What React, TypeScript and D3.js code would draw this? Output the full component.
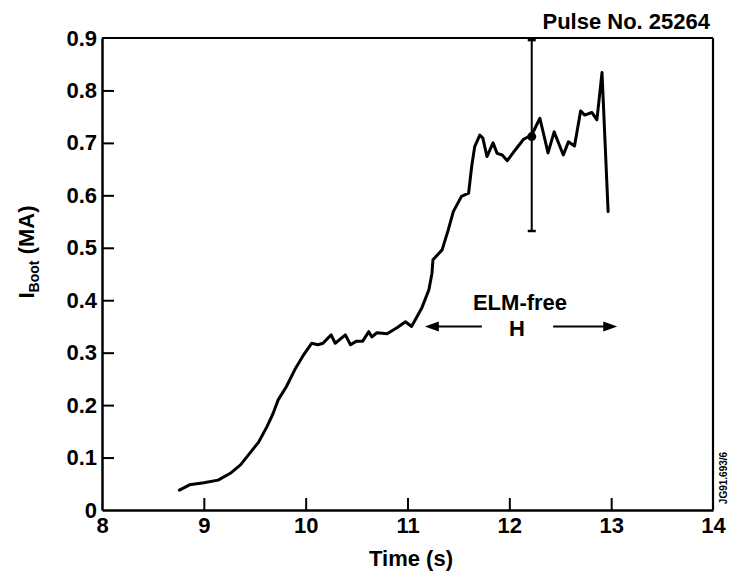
import React, { useEffect, useRef } from "react";
import * as d3 from "d3";

// ---- data ----
const time = [8.76, 8.86, 9.0, 9.14, 9.26, 9.36, 9.45, 9.54, 9.62, 9.68, 9.73, 9.81, 9.9, 9.98, 10.06, 10.12, 10.17, 10.25, 10.29, 10.39, 10.44, 10.5, 10.56, 10.62, 10.65, 10.7, 10.8, 10.9, 10.98, 11.04, 11.14, 11.21, 11.24, 11.25, 11.34, 11.37, 11.4, 11.45, 11.53, 11.6, 11.63, 11.66, 11.71, 11.74, 11.78, 11.84, 11.88, 11.93, 11.98, 12.06, 12.14, 12.22, 12.3, 12.38, 12.44, 12.53, 12.58, 12.64, 12.7, 12.74, 12.81, 12.86, 12.91, 12.97];
const iboot = [0.038, 0.048, 0.052, 0.057, 0.07, 0.086, 0.108, 0.13, 0.159, 0.184, 0.21, 0.235, 0.27, 0.296, 0.318, 0.315, 0.318, 0.334, 0.318, 0.334, 0.315, 0.322, 0.322, 0.34, 0.33, 0.338, 0.336, 0.348, 0.359, 0.35, 0.385, 0.42, 0.451, 0.477, 0.496, 0.515, 0.534, 0.569, 0.598, 0.604, 0.655, 0.693, 0.715, 0.709, 0.674, 0.7, 0.68, 0.677, 0.666, 0.687, 0.707, 0.715, 0.747, 0.681, 0.721, 0.677, 0.702, 0.694, 0.761, 0.753, 0.758, 0.744, 0.834, 0.569];

const xTicks = [8, 9, 10, 11, 12, 13, 14];
const yTicks = [0, 0.1, 0.2, 0.3, 0.4, 0.5, 0.6, 0.7, 0.8, 0.9];

// error bar at one point
const errTime = 12.22;
const errValue = 0.712;
const errLow = 0.532;
const errHigh = 0.896;

// ELM-free H arrows
const arrowY = 0.35;
const leftArrow = [11.73, 11.17];
const rightArrow = [12.43, 13.06];

const W = 735;
const H = 578;
const FONT = "'Liberation Sans', Arial, Helvetica, sans-serif";

export default function App() {
  const ref = useRef<SVGSVGElement | null>(null);

  useEffect(() => {
    const svg = d3.select(ref.current);
    svg.selectAll("*").remove();

    const x = d3.scaleLinear().domain([8, 14]).range([102, 713]);
    const y = d3.scaleLinear().domain([0, 0.9]).range([510, 38]);

    // frame (top & right)
    svg.append("line").attr("x1", x(8)).attr("x2", x(14)).attr("y1", y(0.9)).attr("y2", y(0.9))
      .attr("stroke", "#000").attr("stroke-width", 2.2);
    svg.append("line").attr("x1", x(14)).attr("x2", x(14)).attr("y1", y(0.9)).attr("y2", y(0))
      .attr("stroke", "#000").attr("stroke-width", 2.2);

    const gx = svg.append("g").attr("transform", `translate(0,${y(0)})`)
      .call(d3.axisBottom(x).tickValues(xTicks).tickSize(-12).tickSizeOuter(0).tickPadding(7).tickFormat(d3.format("d")));
    const gy = svg.append("g").attr("transform", `translate(${x(8)},0)`)
      .call(d3.axisLeft(y).tickValues(yTicks).tickSize(-12).tickSizeOuter(0).tickPadding(5)
        .tickFormat((d: any) => (d === 0 ? "0" : d3.format(".1f")(d))));

    [gx, gy].forEach((g) => {
      g.select(".domain").attr("stroke", "#000").attr("stroke-width", 2.5);
      g.selectAll(".tick line").attr("stroke", "#000").attr("stroke-width", 2);
      g.selectAll(".tick text").attr("fill", "#000").attr("font-size", 22)
        .attr("font-weight", "bold").attr("font-family", FONT);
    });
    gy.selectAll(".tick").filter((d: any) => d === 0.9 || d === 0).select("line").remove();
    gx.selectAll(".tick").filter((d: any) => d === 14 || d === 8).select("line").remove();

    // curve
    const pts: [number, number][] = time.map((t, i) => [t, iboot[i]]);
    const line = d3.line<[number, number]>().x((d) => x(d[0])).y((d) => y(d[1])).curve(d3.curveLinear);
    svg.append("path").attr("d", line(pts)).attr("fill", "none").attr("stroke", "#000")
      .attr("stroke-width", 3).attr("stroke-linejoin", "round").attr("stroke-linecap", "round");

    // error bar
    const ex = x(errTime);
    svg.append("line").attr("x1", ex).attr("x2", ex).attr("y1", y(errLow)).attr("y2", y(errHigh))
      .attr("stroke", "#000").attr("stroke-width", 2);
    [errLow, errHigh].forEach((v) => {
      svg.append("line").attr("x1", ex - 4).attr("x2", ex + 4).attr("y1", y(v)).attr("y2", y(v))
        .attr("stroke", "#000").attr("stroke-width", 2.5);
    });
    svg.append("circle").attr("cx", ex).attr("cy", y(errValue)).attr("r", 4.5).attr("fill", "#000");

    // arrows
    const ay = y(arrowY);
    const drawArrow = (from: number, to: number) => {
      const x0 = x(from), x1 = x(to);
      const dir = Math.sign(x1 - x0);
      svg.append("line").attr("x1", x0).attr("x2", x1 - dir * 10).attr("y1", ay).attr("y2", ay)
        .attr("stroke", "#000").attr("stroke-width", 2);
      svg.append("path")
        .attr("d", `M${x1},${ay} L${x1 - dir * 14},${ay - 5} L${x1 - dir * 14},${ay + 5} Z`)
        .attr("fill", "#000");
    };
    drawArrow(leftArrow[0], leftArrow[1]);
    drawArrow(rightArrow[0], rightArrow[1]);

    svg.append("text").attr("x", 520).attr("y", 310).attr("text-anchor", "middle")
      .attr("font-size", 22).attr("font-weight", "bold").attr("font-family", FONT).text("ELM-free");
    svg.append("text").attr("x", 517).attr("y", 336).attr("text-anchor", "middle")
      .attr("font-size", 22).attr("font-weight", "bold").attr("font-family", FONT).text("H");

    // titles
    svg.append("text").attr("x", 710).attr("y", 29).attr("text-anchor", "end")
      .attr("font-size", 22).attr("font-weight", "bold").attr("font-family", FONT).text("Pulse No. 25264");

    svg.append("text").attr("x", 411).attr("y", 566).attr("text-anchor", "middle")
      .attr("font-size", 22).attr("font-weight", "bold").attr("font-family", FONT).text("Time (s)");

    const yt = svg.append("text").attr("transform", "translate(34,252) rotate(-90)")
      .attr("text-anchor", "middle").attr("font-size", 22).attr("font-weight", "bold").attr("font-family", FONT);
    yt.append("tspan").text("I");
    yt.append("tspan").attr("font-size", 14).attr("dy", 5).text("Boot");
    yt.append("tspan").attr("dy", -5).text(" (MA)");

    svg.append("text").attr("transform", "translate(727,478) rotate(-90)")
      .attr("text-anchor", "middle").attr("font-size", 10).attr("font-weight", "bold").attr("font-family", FONT)
      .text("JG91.693/6");
  }, []);

  return (
    <svg ref={ref} width={W} height={H} style={{ position: "absolute", left: 0, top: 0, background: "#fff" }} />
  );
}
